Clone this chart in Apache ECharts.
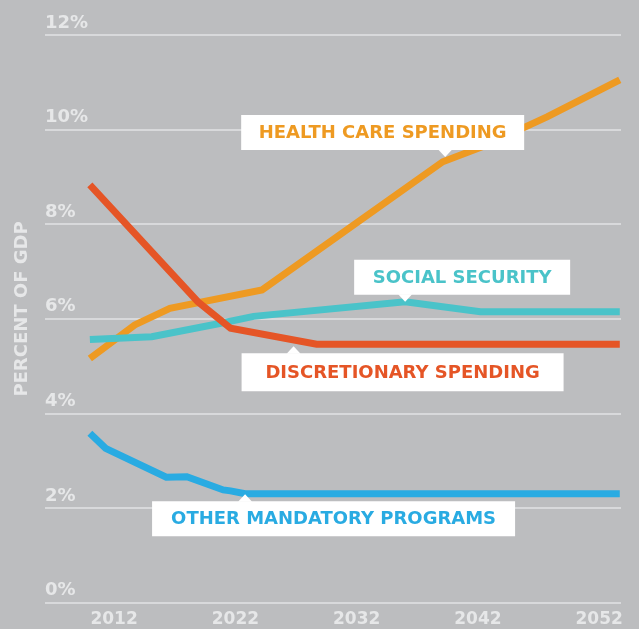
<!DOCTYPE html>
<html><head><meta charset="utf-8">
<script src="https://cdn.jsdelivr.net/npm/echarts@6/dist/echarts.min.js"></script>
<style>html,body{margin:0;padding:0;background:#bcbdbf}#c{width:639px;height:629px}</style>
</head><body><div id="c"></div>
<script>
// ---- data ----
const xTickLabels = [2012, 2022, 2032, 2042, 2052];
const yTickValues = [0, 2, 4, 6, 8, 10, 12];

const healthYears  = [2010, 2013.7, 2016.6, 2024.2, 2039.1, 2042.4, 2047.7, 2053.7];
const healthValues = [5.16, 5.87, 6.22, 6.61, 9.32, 9.64, 10.27, 11.05];

const socialYears  = [2010, 2015.1, 2020.7, 2023.5, 2036.0, 2042.2, 2053.7];
const socialValues = [5.56, 5.62, 5.90, 6.05, 6.36, 6.15, 6.15];

const discYears  = [2010, 2018.9, 2021.6, 2028.7, 2053.7];
const discValues = [8.83, 6.36, 5.80, 5.46, 5.46];

const otherYears  = [2010, 2011.3, 2016.3, 2018.0, 2021.0, 2021.6, 2022.8, 2053.7];
const otherValues = [3.58, 3.26, 2.65, 2.66, 2.38, 2.36, 2.30, 2.30];

const seriesNames = ['HEALTH CARE SPENDING', 'SOCIAL SECURITY', 'DISCRETIONARY SPENDING', 'OTHER MANDATORY PROGRAMS'];
const seriesColors = ['#ee9a22', '#4ac3c9', '#e55526', '#29abe2'];
const yAxisTitle = 'PERCENT OF GDP';

// annotation anchors (year, value) where the pointer touches the line
const noteAnchors = [[2039.3, 9.42], [2036.0, 6.36], [2026.8, 5.42], [2022.8, 2.29]];

// ---- chart ----
const FONT = '"DejaVu Sans"';
const zip = (xs, ys) => xs.map((x, i) => [x, ys[i]]);
const allSeries = [
  zip(healthYears, healthValues),
  zip(socialYears, socialValues),
  zip(discYears, discValues),
  zip(otherYears, otherValues)
];

const chart = echarts.init(document.getElementById('c'), null, {renderer: 'canvas'});
chart.setOption({
  backgroundColor: '#bcbdbf',
  animation: false,
  grid: {left: 45, right: 18, top: 35, bottom: 26.5, containLabel: false},
  xAxis: {
    type: 'value', min: 2006.3, max: 2053.8,
    axisLine: {show: false}, axisTick: {show: false}, splitLine: {show: false},
    axisLabel: {
      customValues: xTickLabels,
      color: '#e6e7e8', fontFamily: 'DejaVu Sans', fontWeight: 'bold', fontSize: 17, margin: 9,
      formatter: v => String(v)
    }
  },
  yAxis: {
    type: 'value', min: 0, max: 12, interval: 2,
    axisLine: {show: false}, axisTick: {show: false},
    splitLine: {show: true, lineStyle: {color: '#e2e3e4', width: 1.5}},
    axisLabel: {
      inside: true, margin: 0, verticalAlign: 'bottom', lineHeight: 18,
      padding: [0, 0, 3, 0],
      color: '#e6e7e8', fontFamily: 'DejaVu Sans', fontWeight: 'bold', fontSize: 18,
      formatter: v => v + '%'
    }
  },
  series: [0, 1, 2, 3].map(i => ({
    name: seriesNames[i], type: 'line', data: allSeries[i],
    symbol: 'none', z: 2 + i,
    lineStyle: {color: seriesColors[i], width: 7, cap: 'butt', join: 'miter'}
  }))
});

// callout boxes
const boxes = [
  {dx: -204, w: 283, h: 35, dir: 'down'},
  {dx: -51,  w: 216, h: 35, dir: 'down'},
  {dx: -52,  w: 322, h: 38, dir: 'up'},
  {dx: -93,  w: 363, h: 35, dir: 'up'}
];
const g = [{
  type: 'text', x: 22, y: 309, rotation: Math.PI / 2,
  style: {text: yAxisTitle, fill: '#e6e7e8', font: 'bold 18px ' + FONT, align: 'center', verticalAlign: 'middle'}
}];
boxes.forEach((b, i) => {
  const p = chart.convertToPixel({gridIndex: 0}, noteAnchors[i]);
  const tipX = p[0], tipY = p[1];
  const th = 7;
  const top = b.dir === 'down' ? tipY - th - b.h : tipY + th;
  const left = tipX + b.dx;
  g.push({type: 'rect', shape: {x: left, y: top, width: b.w, height: b.h}, style: {fill: '#ffffff'}, z: 20});
  const baseY = b.dir === 'down' ? top + b.h - 0.5 : top + 0.5;
  g.push({type: 'polygon', shape: {points: [[tipX - 7, baseY], [tipX + 7, baseY], [tipX, tipY]]}, style: {fill: '#ffffff'}, z: 20});
  g.push({type: 'text', x: left + b.w / 2, y: top + b.h / 2 + 1, z: 21,
    style: {text: seriesNames[i], fill: seriesColors[i], font: 'bold 18px ' + FONT, align: 'center', verticalAlign: 'middle'}});
});
chart.setOption({graphic: g});
</script>
</body></html>
